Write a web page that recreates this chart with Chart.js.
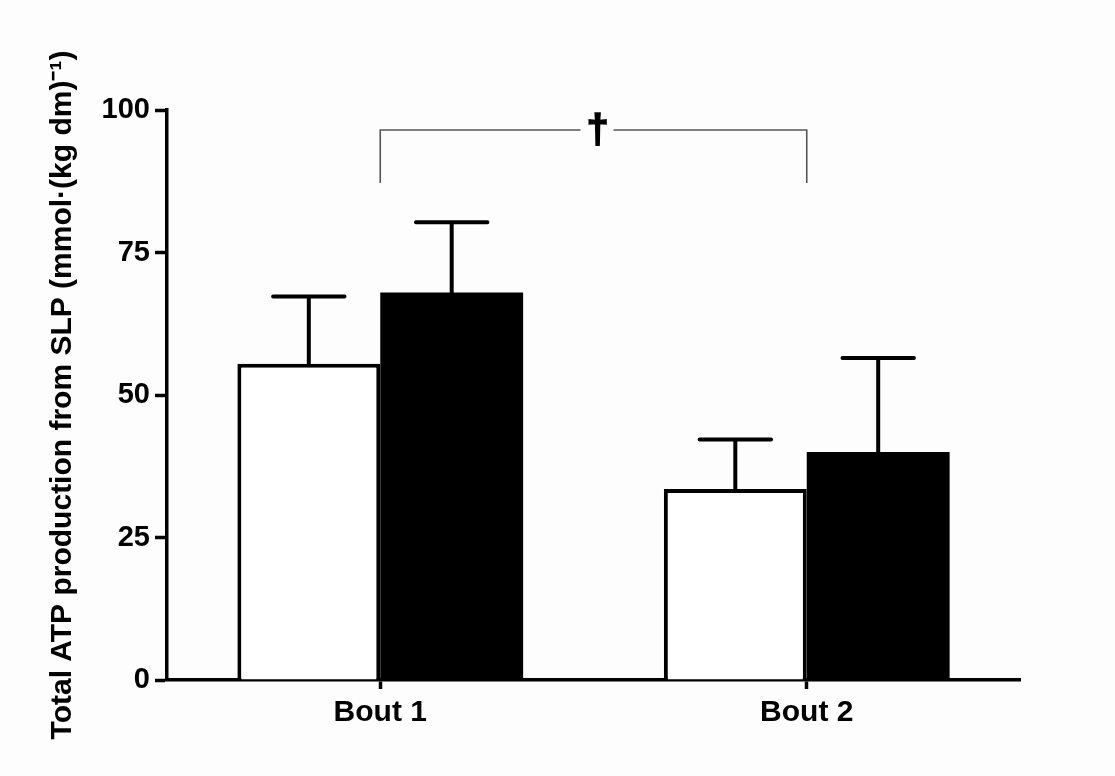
<!DOCTYPE html>
<html>
<head>
<script src="https://cdn.jsdelivr.net/npm/chart.js"></script>
<style>
  html, body { margin: 0; padding: 0; background: #fdfdfd; }
  #wrap { width: 1115px; height: 776px; }
</style>
</head>
<body>
<div id="wrap"><canvas id="chart"></canvas></div>
<script>
// values
var bouts = ['Bout 1', 'Bout 2'];
var whiteMean = [55.5, 33.5];
var whiteErr = [11.8, 8.7];
var blackMean = [68.0, 40.0];
var blackErr = [12.3, 16.5];
var yTicks = [0, 25, 50, 75, 100];
var bracketTop = 96.5;
var bracketLeg = 87.2;

var FONT = "'Liberation Sans', Arial, sans-serif";

// upward-only error bars with caps
var errorBars = {
    id: 'errorBars',
    afterDatasetsDraw: function(chart) {
        var ctx = chart.ctx;
        var y = chart.scales.y;
        ctx.save();
        ctx.strokeStyle = '#000';
        ctx.lineWidth = 4;
        ctx.lineCap = 'round';
        chart.data.datasets.forEach(function(ds, i) {
            var meta = chart.getDatasetMeta(i);
            meta.data.forEach(function(bar, j) {
                var yb = y.getPixelForValue(ds.data[j]);
                var yt = y.getPixelForValue(ds.data[j] + ds.errors[j]);
                var half = bar.width * 0.25;
                ctx.beginPath();
                ctx.moveTo(bar.x, yb);
                ctx.lineTo(bar.x, yt);
                ctx.moveTo(bar.x - half, yt);
                ctx.lineTo(bar.x + half, yt);
                ctx.stroke();
            });
        });
        ctx.restore();
    }
};

// significance bracket between the two bouts
var bracket = {
    id: 'bracket',
    afterDraw: function(chart) {
        var ctx = chart.ctx;
        var x = chart.scales.x, y = chart.scales.y;
        var x1 = x.getPixelForValue(0), x2 = x.getPixelForValue(1);
        var yt = y.getPixelForValue(bracketTop);
        var yl = y.getPixelForValue(bracketLeg);
        var mid = (x1 + x2) / 2 + 4;
        ctx.save();
        ctx.strokeStyle = '#555';
        ctx.lineWidth = 1.6;
        ctx.beginPath();
        ctx.moveTo(x1, yl);
        ctx.lineTo(x1, yt);
        ctx.lineTo(mid - 17, yt);
        ctx.moveTo(mid + 16, yt);
        ctx.lineTo(x2, yt);
        ctx.lineTo(x2, yl);
        ctx.stroke();
        ctx.fillStyle = '#000';
        ctx.strokeStyle = '#000';
        ctx.lineWidth = 1.5;
        ctx.font = 'bold 40px ' + FONT;
        ctx.textAlign = 'center';
        ctx.textBaseline = 'middle';
        ctx.fillText('\u2020', mid, yt + 2);
        ctx.strokeText('\u2020', mid, yt + 2);
        ctx.restore();
    }
};

var ctx = document.getElementById('chart').getContext('2d');
var chart = new Chart(ctx, {
    type: 'bar',
    data: {
        labels: bouts,
        datasets: [{
            data: whiteMean,
            errors: whiteErr,
            backgroundColor: '#fff',
            borderColor: '#000',
            borderWidth: 4,
            borderSkipped: 'bottom',
            categoryPercentage: 0.67,
            barPercentage: 1.0
        }, {
            data: blackMean,
            errors: blackErr,
            backgroundColor: '#000',
            borderColor: '#000',
            borderWidth: 0,
            categoryPercentage: 0.67,
            barPercentage: 1.0
        }]
    },
    options: {
        responsive: true,
        maintainAspectRatio: false,
        animation: false,
        layout: { padding: { left: 41, right: 95, top: 110, bottom: 30 } },
        plugins: {
            legend: { display: false },
            tooltip: { enabled: false }
        },
        scales: {
            x: {
                grid: {
                    offset: false,
                    drawOnChartArea: false,
                    color: '#000',
                    tickLength: 9,
                    tickWidth: 3.5
                },
                border: { color: '#000', width: 3.5 },
                ticks: {
                    color: '#000',
                    padding: 6,
                    font: { family: FONT, size: 30, weight: 'bold' }
                },
                afterFit: function(s) { s.height = 66; }
            },
            y: {
                min: 0,
                max: 100,
                afterBuildTicks: function(s) {
                    s.ticks = yTicks.map(function(v) { return { value: v }; });
                },
                grid: {
                    drawOnChartArea: false,
                    color: '#000',
                    tickLength: 12,
                    tickWidth: 3.5
                },
                border: { color: '#000', width: 3.5 },
                ticks: {
                    color: '#000',
                    padding: 5,
                    font: { family: FONT, size: 29, weight: 'bold' }
                },
                title: {
                    display: true,
                    text: 'Total ATP production from SLP (mmol\u00b7(kg dm)\u207b\u00b9)',
                    color: '#000',
                    padding: { top: 4, bottom: 0 },
                    font: { family: FONT, size: 30, weight: 'bold' }
                },
                afterFit: function(s) { s.width = 126; }
            }
        }
    },
    plugins: [errorBars, bracket]
});
</script>
</body>
</html>
